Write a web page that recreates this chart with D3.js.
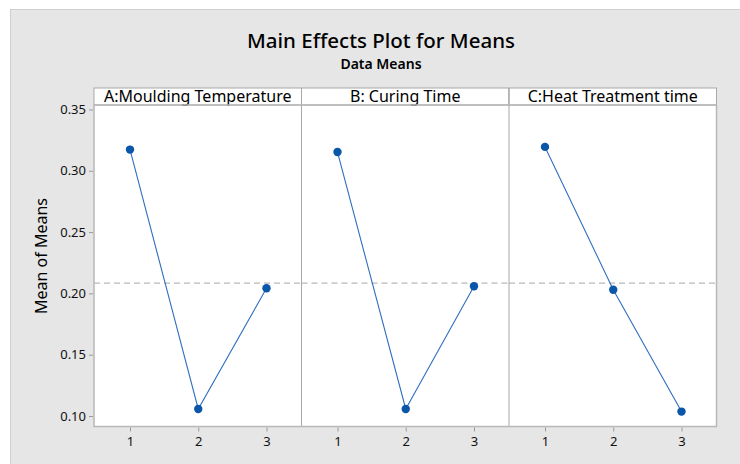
<!DOCTYPE html>
<html>
<head>
  <meta charset="utf-8">
  <title>Main Effects Plot for Means</title>
  <style>
    body { margin: 0; background: #fff; }
    svg { display: block; font-family: "Noto Sans", "Open Sans", sans-serif; }
  </style>
</head>
<body>
  <svg id="chart" width="740" height="464"></svg>

  <script src="https://cdn.jsdelivr.net/npm/d3@7"></script>
  <script>
    // factors (one panel each) and their level means
    var factors = ['A:Moulding Temperature', 'B: Curing Time', 'C:Heat Treatment time'];
    var levels = [1, 2, 3];
    var meansA = [0.3173, 0.1057, 0.2042];
    var meansB = [0.3153, 0.1057, 0.2058];
    var meansC = [0.3195, 0.2030, 0.1036];
    var grandMean = 0.2084;
    var yTicks = [0.10, 0.15, 0.20, 0.25, 0.30, 0.35];

    var seriesList = [meansA, meansB, meansC];

    var svg = d3.select('#chart');
    var W = 740, H = 464;

    // grey page
    svg.append('rect')
      .attr('x', 10.5).attr('y', 9.5)
      .attr('width', W - 10).attr('height', H - 9)
      .attr('fill', '#e6e6e6')
      .attr('stroke', '#cfcfcf');

    svg.append('text')
      .attr('x', 381).attr('y', 47.5)
      .attr('text-anchor', 'middle')
      .style('font-size', '20.5px')
      .style('font-weight', 500)
      .attr('fill', '#000')
      .text('Main Effects Plot for Means');

    svg.append('text')
      .attr('x', 381).attr('y', 69)
      .attr('text-anchor', 'middle')
      .style('font-size', '14px')
      .style('font-weight', 600)
      .attr('fill', '#000')
      .text('Data Means');

    var left = 94, right = 716.5;
    var headTop = 88, plotTop = 105, plotBottom = 426.5;
    var panelW = (right - left) / factors.length;

    var y = d3.scaleLinear().domain([0.10, 0.35]).range([416, 109.5]);

    // y axis
    var yAxis = d3.axisLeft(y)
      .tickValues(yTicks)
      .tickFormat(d3.format('.2f'))
      .tickSize(4)
      .tickPadding(3);

    var gy = svg.append('g')
      .attr('transform', 'translate(' + (left - 1) + ',0)')
      .call(yAxis);
    gy.select('.domain').remove();
    gy.selectAll('.tick line').attr('stroke', '#9a9a9a');
    gy.selectAll('.tick text')
      .attr('fill', '#111')
      .style('font-size', '13px')
      .style('font-family', '"Noto Sans", sans-serif');

    svg.append('text')
      .attr('transform', 'translate(47,256) rotate(-90)')
      .attr('text-anchor', 'middle')
      .style('font-size', '16px')
      .attr('fill', '#000')
      .text('Mean of Means');

    // white plot area + header strip
    svg.append('rect')
      .attr('x', left).attr('y', headTop)
      .attr('width', right - left).attr('height', plotBottom - headTop)
      .attr('fill', '#fff');

    factors.forEach(function(name, i) {
      var x0 = left + i * panelW;
      var x = d3.scaleLinear().domain([1, 3]).range([x0 + 36, x0 + 172.5]);
      var g = svg.append('g');

      // header box
      g.append('rect')
        .attr('x', x0).attr('y', headTop)
        .attr('width', panelW).attr('height', plotTop - headTop)
        .attr('fill', '#fff')
        .attr('stroke', '#a8a8a8');

      g.append('text')
        .attr('x', x0 + panelW / 2).attr('y', plotTop - 3.5)
        .attr('text-anchor', 'middle')
        .style('font-size', '16px')
        .attr('fill', '#000')
        .text(name);

      // reference line at the grand mean
      g.append('line')
        .attr('x1', x0).attr('x2', x0 + panelW)
        .attr('y1', y(grandMean)).attr('y2', y(grandMean))
        .attr('stroke', '#a6a6a6')
        .attr('stroke-dasharray', '6,4');

      var pts = levels.map(function(l, j) { return [l, seriesList[i][j]]; });

      g.append('path')
        .datum(pts)
        .attr('fill', 'none')
        .attr('stroke', '#2f6fbf')
        .attr('stroke-width', 1.1)
        .attr('d', d3.line()
          .x(function(d) { return x(d[0]); })
          .y(function(d) { return y(d[1]); }));

      g.selectAll('circle')
        .data(pts)
        .enter().append('circle')
        .attr('cx', function(d) { return x(d[0]); })
        .attr('cy', function(d) { return y(d[1]); })
        .attr('r', 4.2)
        .attr('fill', '#0a56a8');

      // x axis
      var xAxis = d3.axisBottom(x)
        .tickValues(levels)
        .tickFormat(d3.format('d'))
        .tickSize(4)
        .tickPadding(5);

      var gx = g.append('g')
        .attr('transform', 'translate(0,' + (plotBottom + 1) + ')')
        .call(xAxis);
      gx.select('.domain').remove();
      gx.selectAll('.tick line').attr('stroke', '#9a9a9a');
      gx.selectAll('.tick text')
        .attr('fill', '#111')
        .style('font-size', '13px')
        .style('font-family', '"Noto Sans", sans-serif');

      // divider between panels
      if (i > 0) {
        g.append('line')
          .attr('x1', x0).attr('x2', x0)
          .attr('y1', headTop).attr('y2', plotBottom)
          .attr('stroke', '#a8a8a8');
      }
    });

    // outer frame of the plot area
    svg.append('rect')
      .attr('x', left).attr('y', plotTop)
      .attr('width', right - left).attr('height', plotBottom - plotTop)
      .attr('fill', 'none')
      .attr('stroke', '#b8b8b8')
      .attr('stroke-width', 1.5);
  </script>
</body>
</html>
